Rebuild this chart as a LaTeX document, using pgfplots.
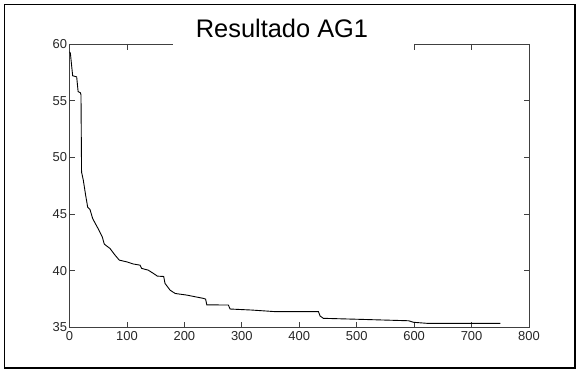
\documentclass[border=0pt]{standalone}
\usepackage{fontspec}
\setmainfont{Liberation Sans}
\usepackage{pgfplots}
\pgfplotsset{compat=1.18}
\begin{document}
\begin{tikzpicture}[x=1bp,y=1bp]
\path[use as bounding box] (-69.5,-42.5) rectangle (506.5,327.5);
\begin{axis}[
  at={(0,0)}, anchor=south west,
  scale only axis,
  width=459.5bp, height=283.5bp,
  xmin=0, xmax=800, ymin=35, ymax=60,
  xtick={0,100,...,800}, ytick={35,40,...,60},
  tick align=inside, major tick length=5.5bp,
  axis line style={black!75, line width=0.8bp},
  every tick/.style={black!75, line width=0.8bp},
  tick label style={font=\fontsize{13}{15}\selectfont, text=black!85},
  /pgf/number format/assume math mode=true,
  xticklabel style={yshift=-0.5bp},
  yticklabel style={xshift=1bp},
]
\addplot[black, line width=0.9bp, mark=none] coordinates {
(0,59.3) (1.5,59.2) (4.9,57.5) (5.5,57.2) (12.5,57.1) (15,55.8) (19,55.7) (20,55.5)
(21,48.7) (24,48.0) (28,46.7) (31.7,45.6) (35.7,45.4) (40.4,44.6) (50,43.7) (57,43.0)
(60.6,42.35) (70.5,41.97) (79,41.4) (86.7,40.94) (99.6,40.79) (111,40.6) (122.8,40.5)
(125.7,40.21) (137,40.06) (146,39.77) (153,39.53) (164,39.5) (166.3,38.89) (175,38.3)
(184,38.0) (204,37.86) (233,37.57) (237,37.5) (239,37.0) (276.6,36.98) (279.6,36.63)
(317,36.54) (358,36.4) (433.4,36.4) (436.3,36.01) (442,35.81) (506,35.72) (587,35.6)
(590,35.6) (599,35.46) (622,35.37) (750,35.37)
};
\end{axis}
\fill[white] (103.5,277.5) rectangle (344.5,323.5);
\node[anchor=base, font=\fontsize{25.5}{28}\selectfont, inner sep=0pt] at (212.5,289.8) {Resultado AG1};
\draw[black, line width=1.6bp] (-65,-40.5) rectangle (505.5,323);
\end{tikzpicture}
\end{document}
